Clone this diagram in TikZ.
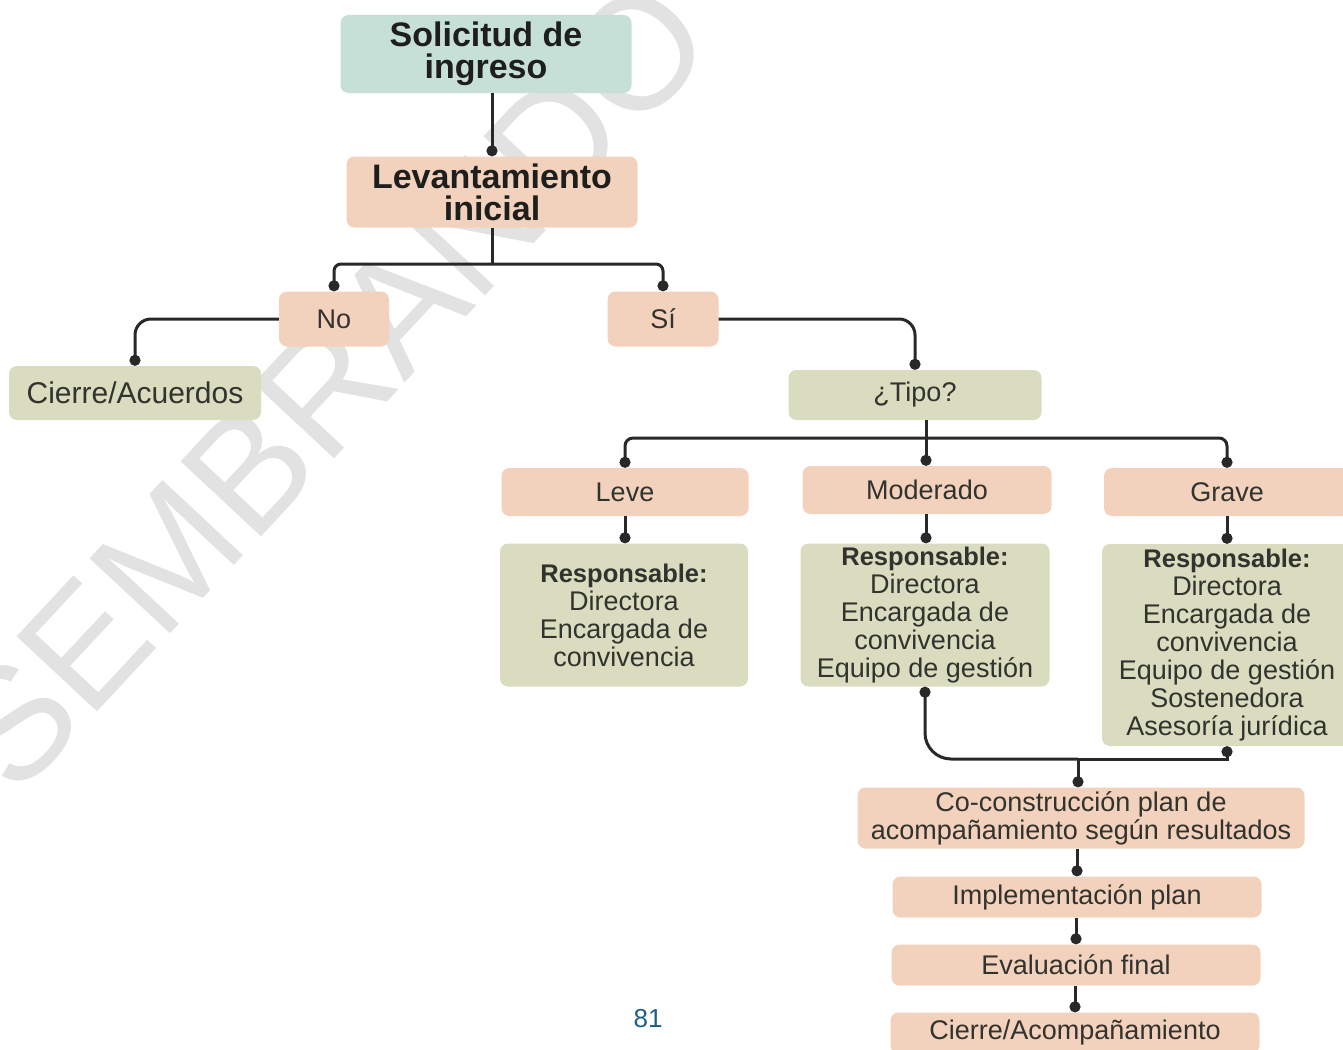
\documentclass[tikz,border=0pt]{standalone}
\usepackage{fontspec}
\setmainfont{Liberation Sans}
\usetikzlibrary{arrows.meta}
\definecolor{tealfill}{RGB}{198,223,215}
\definecolor{peachfill}{RGB}{242,210,188}
\definecolor{olivefill}{RGB}{217,220,190}
\definecolor{linecol}{RGB}{40,40,40}
\definecolor{inkgray}{RGB}{50,50,46}
\definecolor{inkdark}{RGB}{30,30,28}
\definecolor{markgray}{RGB}{226,226,226}
\definecolor{pageblue}{RGB}{30,95,135}
\tikzset{
  % base box
  box/.style={
    rounded corners=8pt,
    inner sep=0pt,
    align=center,
    text=inkgray,
    font=\fontsize{27}{28}\selectfont
  },
  % fills
  tealbox/.style={box, fill=tealfill},
  peachbox/.style={box, fill=peachfill},
  olivebox/.style={box, fill=olivefill},
  % bold title text (after the fill style)
  headtext/.style={text=inkdark, font=\fontsize{34}{32}\selectfont\bfseries},
  % connectors
  link/.style={draw=linecol, line width=3pt},
  dotend/.style={link, -{Circle[length=11pt]}},
  dotstart/.style={link, {Circle[length=11pt]}-},
  % watermark
  watermark/.style={text=markgray, font=\fontsize{160}{160}\selectfont, anchor=base west, rotate=47, inner sep=0pt},
}
\newcommand{\resphead}{{\bfseries\fontsize{25.5}{28}\selectfont Responsable:}}

\begin{document}
\begin{tikzpicture}[x=1pt, y=-1pt]
    \useasboundingbox (0,0) rectangle (1343,1049);

    % Watermark
    \node[watermark] (wmark) at (16,800) {SEMBRANDO TRATO};

    % Top
    \node[tealbox, headtext, minimum width=291, minimum height=78] (sol) at (486,54) {Solicitud de\\ingreso};
    \node[peachbox, headtext, minimum width=291, minimum height=71] (lev) at (492,192) {Levantamiento\\inicial};

    % Answer
    \node[peachbox, minimum width=110, minimum height=55] (no) at (334,319) {No};
    \node[peachbox, minimum width=111, minimum height=55] (si) at (663,319) {Sí};
    \node[olivebox, minimum width=252, minimum height=54, font=\fontsize{30}{30}\selectfont] (cierreA) at (135,393) {Cierre/Acuerdos};
    \node[olivebox, minimum width=253, minimum height=50] (tipo) at (915,395) {¿Tipo?};

    % Types
    \node[peachbox, minimum width=247, minimum height=48] (leve) at (625,492) {Leve};
    \node[peachbox, minimum width=249, minimum height=48] (mod) at (927,490) {Moderado};
    \node[peachbox, minimum width=246, minimum height=48] (grave) at (1227,492) {Grave};

    % Responsibles
    \node[olivebox, minimum width=248, minimum height=143] (respL) at (624,615) {\resphead\\Directora\\Encargada de\\convivencia};
    \node[olivebox, minimum width=249, minimum height=143] (respM) at (925,615) {\resphead\\Directora\\Encargada de\\convivencia\\Equipo de gestión};
    \node[olivebox, minimum width=250, minimum height=202] (respG) at (1227,645) {\resphead\\Directora\\Encargada de\\convivencia\\Equipo de gestión\\Sostenedora\\Asesoría jurídica};

    % Plan
    \node[peachbox, minimum width=447, minimum height=61] (coplan) at (1081,818) {Co-construcción plan de\\acompañamiento según resultados};
    \node[peachbox, minimum width=369, minimum height=41] (impl) at (1077,897) {Implementación plan};
    \node[peachbox, minimum width=369, minimum height=41] (eval) at (1076,965) {Evaluación final};
    \node[peachbox, minimum width=369, minimum height=41] (cierreB) at (1075,1033) {Cierre/Acompañamiento};

    % Page number
    \node[text=pageblue, font=\fontsize{26}{26}\selectfont] (pagenum) at (648,1019) {81};

    % Connectors
    \coordinate (split1) at (492,264);
    \coordinate (split2) at (926,438);
    \coordinate (merge) at (1078,759);
    \draw[dotend] (lev.north |- sol.south) -- (lev.north);
    \draw[link] (lev.south) -- (split1);
    \draw[dotend, rounded corners=7pt] (split1) -| (no.north);
    \draw[dotend, rounded corners=7pt] (split1) -| (si.north);
    \draw[dotend, rounded corners=16pt] (no.west) -| (cierreA.north);
    \draw[dotend, rounded corners=16pt] (si.east) -| (tipo.north);
    \draw[link] (split2 |- tipo.south) -- (split2);
    \draw[dotend, rounded corners=8pt] (split2) -| (leve.north);
    \draw[dotend] (split2) -- (split2 |- mod.north);
    \draw[dotend, rounded corners=8pt] (split2) -| (grave.north);
    \draw[dotend] (leve.south) -- (leve.south |- respL.north);
    \draw[dotend] (split2 |- mod.south) -- (split2 |- respM.north);
    \draw[dotend] (grave.south) -- (respG.north);
    \draw[dotstart, rounded corners=26pt] (respM.south) |- (merge);
    \draw[dotstart] (respG.south) |- (merge);
    \draw[dotend] (merge) -- (merge |- coplan.north);
    \draw[dotend] (impl.north |- coplan.south) -- (impl.north);
    \draw[dotend] (eval.north |- impl.south) -- (eval.north);
    \draw[dotend] (cierreB.north |- eval.south) -- (cierreB.north);
\end{tikzpicture}
\end{document}
